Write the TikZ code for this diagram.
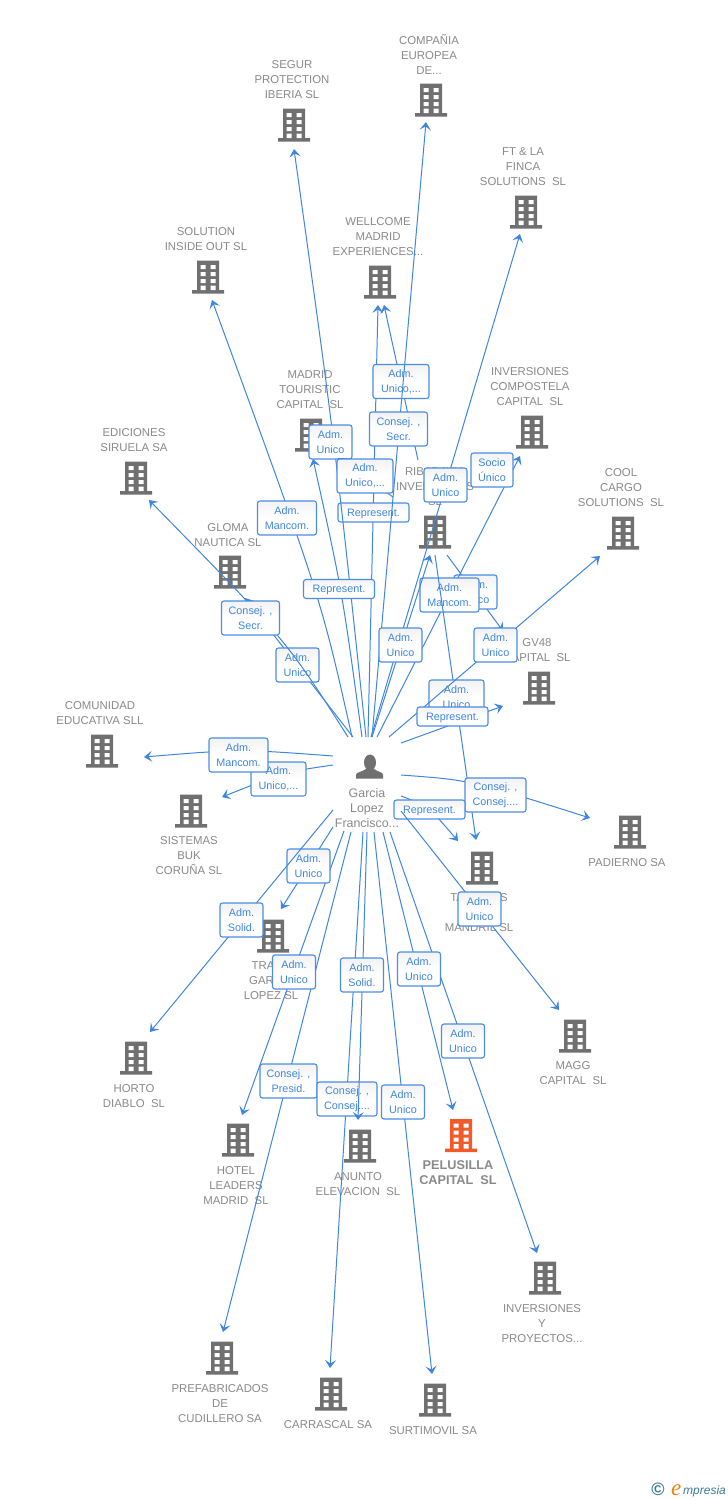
\documentclass[tikz,border=0pt]{standalone}
\usepackage{fontspec}
\setmainfont{Liberation Sans}
\newfontfamily\logofont{Liberation Serif}
\usetikzlibrary{arrows.meta}
\definecolor{edgeblue}{HTML}{3F86E3}
\definecolor{boxblue}{HTML}{4A8DE6}
\definecolor{txtblue}{HTML}{3F86E0}
\definecolor{labgray}{HTML}{8A8A8A}
\definecolor{bldgray}{HTML}{707070}
\definecolor{bldorange}{HTML}{F4592B}
\definecolor{logoteal}{HTML}{3D7C99}
\definecolor{logoorange}{HTML}{F08014}
\tikzset{
  conn/.style={draw=edgeblue,line width=1pt,-{Stealth[length=8pt,width=11pt,inset=3.5pt]}},
  rel/.style={draw=boxblue,line width=1.1pt,rounded corners=2.5pt,top color=black!5,bottom color=white,middle color=white,
    inner sep=0pt,minimum height=34pt,align=center,text=txtblue,font=\fontsize{10.8}{15}\selectfont,
    execute at begin node={\rule{0pt}{10pt}}},
  relone/.style={rel,minimum height=19pt},
  complab/.style={inner sep=0pt,align=center,text=labgray,font=\fontsize{11.4}{15}\selectfont},
  bldbox/.style={inner sep=0pt,minimum width=32pt,minimum height=33pt},
}
% building icon: name, x, y, colour
\newcommand{\bld}[4]{%
  \node[bldbox] (#1) at (#2,#3) {};
  \begin{scope}[shift={(#2,#3)}]
    \fill[#4] (-11,-16.5) rectangle (11,13) (-16,13) rectangle (16,16.5);
    \fill[white] (-7.5,-12) rectangle (-2.5,-8) (2.5,-12) rectangle (7.5,-8)
      (-7.5,-5) rectangle (-2.5,-1) (2.5,-5) rectangle (7.5,-1)
      (-7.5,2) rectangle (-2.5,6) (2.5,2) rectangle (7.5,6)
      (-7.5,8.5) rectangle (-2.5,13) (2.5,8.5) rectangle (7.5,13);
  \end{scope}}
% company: name, bx, by, lx, ly(top of text), text
\newcommand{\comp}[6]{%
  \bld{#1}{#2}{#3}{bldgray}
  \node[complab,anchor=north] (#1-l) at (#4,{#5+1}) {#6};}
% straight edge: id, sx, sy, tx, ty
\newcommand{\sedge}[5]{%
  \coordinate (s-#1) at (#2,#3);
  \coordinate (t-#1) at (#4,#5);
  \draw[conn] (s-#1) -- (t-#1);}
% curved edge: id, sx, sy, cx, cy, tx, ty
\newcommand{\cedge}[7]{%
  \coordinate (s-#1) at (#2,#3);
  \coordinate (c-#1) at (#4,#5);
  \coordinate (t-#1) at (#6,#7);
  \draw[conn] (s-#1) .. controls (c-#1) .. (t-#1);}
% two line box: id, x, y, w, text
\newcommand{\rbox}[5]{\node[rel,minimum width=#4pt] (b-#1) at (#2,#3) {#5};}
\newcommand{\rone}[3]{\node[relone,minimum width=71pt] (b-#1) at (#2,#3) {Represent.};}
\begin{document}
\begin{tikzpicture}[x=1pt,y=-1pt]
\useasboundingbox (0,0) rectangle (728,1500);
\fill[white] (0,0) rectangle (728,1500);
% companies
\comp{compania}{431}{100}{429}{33}{COMPAÑIA\\EUROPEA\\DE...}
\comp{segur}{294}{125}{292}{59}{SEGUR\\PROTECTION\\IBERIA SL}
\comp{ft}{526}{212}{523}{146}{FT \& LA\\FINCA\\SOLUTIONS\ \ SL}
\comp{solution}{208}{277}{206}{226}{SOLUTION\\INSIDE OUT SL}
\comp{wellcome}{380}{282}{378}{216}{WELLCOME\\MADRID\\EXPERIENCES...}
\comp{madrid}{311}{435}{310}{369}{MADRID\\TOURISTIC\\CAPITAL\ \ SL}
\comp{compostela}{532}{432}{530}{366}{INVERSIONES\\COMPOSTELA\\CAPITAL\ \ SL}
\comp{riba}{435}{532}{435}{466}{RIBADAVIA\\INVERSIONES\\SL}
\comp{cool}{623}{533}{621}{467}{COOL\\CARGO\\SOLUTIONS\ \ SL}
\comp{ediciones}{136}{478}{134}{427}{EDICIONES\\SIRUELA SA}
\comp{gloma}{230}{572}{228}{522}{GLOMA\\NAUTICA SL}
\comp{gv}{539}{688}{537}{637}{GV48\\CAPITAL\ \ SL}
\comp{comunidad}{102}{751}{100}{700}{COMUNIDAD\\EDUCATIVA SLL}
\comp{sistemas}{191}{811}{189}{835}{SISTEMAS\\BUK\\CORUÑA SL}
\comp{padierno}{630}{832}{627}{857}{PADIERNO SA}
\comp{trans}{482}{868}{479}{892}{TALLERES\\\\MANDRIL SL}
\comp{tra}{273}{936}{271}{960}{TRANS\\GARCIA\\LOPEZ SL}
\comp{magg}{575}{1036}{573}{1060}{MAGG\\CAPITAL\ \ SL}
\comp{horto}{136}{1058}{134}{1083}{HORTO\\DIABLO\ \ SL}
\comp{hotel}{238}{1140}{236}{1165}{HOTEL\\LEADERS\\MADRID\ \ SL}
\comp{anunto}{360}{1146}{358}{1171}{ANUNTO\\ELEVACION\ \ SL}
\bld{pelusilla}{461}{1135.5}{bldorange}
\node[complab,anchor=north,font=\fontsize{12.7}{15}\bfseries\selectfont] (pelusilla-l) at (458,1160) {PELUSILLA\\CAPITAL\ \ SL};
\comp{inversiones}{545}{1278}{542}{1303}{INVERSIONES\\Y\\PROYECTOS...}
\comp{prefab}{222}{1358}{220}{1383}{PREFABRICADOS\\DE\\CUDILLERO SA}
\comp{carrascal}{331}{1394}{328}{1419}{CARRASCAL SA}
\comp{surtimovil}{435}{1400}{433}{1425}{SURTIMOVIL SA}
% person
\node[inner sep=0pt,align=center,text=labgray,font=\fontsize{12.4}{15}\selectfont,anchor=north] (person) at (367,788) {Garcia\\Lopez\\Francisco...};
\fill[bldgray] (370,762.5) ellipse (6 and 8);
\fill[bldgray] (356,778.5) -- (356,775) .. controls (356,772) and (362,772) .. (366,769) -- (374,769) .. controls (378,772) and (383,772) .. (383,775) -- (383,778.5) -- cycle;
% edges and their labels, in stacking order
\sedge{e1}{368}{737}{378}{305}
\rone{e1}{373.5}{512.5}
\sedge{e2}{418}{460}{384}{305}
\rbox{e2}{401}{381.5}{56}{Adm.\\Unico,...}
\sedge{e3}{372}{737}{426}{122}
\rbox{e3}{398.5}{429}{58}{Consej. ,\\Secr.}
\sedge{e4}{371}{737}{520}{234}
\rbox{e4}{445.5}{485}{43}{Adm.\\Unico}
\sedge{e5}{447}{555}{503}{631}
\rbox{e5}{475.5}{592}{43}{Adm.\\Unico}
\sedge{e6}{377}{737}{520}{456}
\rbox{e6}{449.5}{595}{59}{Adm.\\Mancom.}
\rbox{e6b}{492}{470}{42}{Socio\\Único}
\sedge{e7}{435}{555}{476}{840}
\rbox{e7}{456.5}{697}{55}{Adm.\\Unico}
\sedge{e8}{372}{737}{430}{555}
\rbox{e8}{400.5}{645}{43}{Adm.\\Unico}
\sedge{e9}{389}{737}{600}{556}
\rbox{e9}{495.5}{645}{43}{Adm.\\Unico}
\sedge{e10}{401}{743}{503}{706}
\rone{e10}{452.5}{716.5}
\cedge{e11}{401}{775}{470}{780}{590}{818}
\rbox{e11}{495.5}{795}{61}{Consej. ,\\Consej....}
\cedge{e12}{401}{796}{428}{806}{458}{841}
\rone{e12}{429.5}{809.5}
\sedge{e13}{401}{811}{559}{1010}
\rbox{e13}{479.5}{909}{43}{Adm.\\Unico}
\sedge{e14}{390}{832}{537}{1253}
\rbox{e14}{463}{1041}{43}{Adm.\\Unico}
\sedge{e15}{383}{832}{453}{1110}
\rbox{e15}{419}{969}{43}{Adm.\\Unico}
\sedge{e16}{374}{832}{432}{1374}
\rbox{e16}{403}{1102}{43}{Adm.\\Unico}
\sedge{e17}{351}{832}{223}{1332}
\rbox{e17}{288.5}{1081}{57}{Consej. ,\\Presid.}
\sedge{e18}{363}{832}{330}{1368}
\rbox{e18}{347}{1099}{60}{Consej. ,\\Consej....}
\sedge{e19}{367}{832}{358}{1120}
\rbox{e19}{362}{975}{43}{Adm.\\Solid.}
\sedge{e20}{344}{831}{242}{1115}
\rbox{e20}{294}{972}{43}{Adm.\\Unico}
\sedge{e21}{333}{827}{281}{909}
\rbox{e21}{308.5}{866}{43}{Adm.\\Unico}
\sedge{e22}{333}{810}{150}{1032}
\rbox{e22}{241.5}{920}{43}{Adm.\\Solid.}
\cedge{e23}{333}{765}{285}{772}{222}{797}
\rbox{e23}{278.5}{779}{55}{Adm.\\Unico,...}
\cedge{e24}{333}{756}{240}{749}{144}{757}
\rbox{e24}{238.5}{755}{59}{Adm.\\Mancom.}
\sedge{e25}{353}{737}{245}{598}
\rbox{e25}{297.5}{665}{43}{Adm.\\Unico}
\cedge{e26}{348}{737}{287}{641}{149}{500}
\rbox{e26}{250.5}{618}{58}{Consej. ,\\Secr.}
\cedge{e27}{352}{737}{321}{598}{212}{300}
\rbox{e27}{287}{518}{59}{Adm.\\Mancom.}
\cedge{e28}{366}{737}{335}{443}{294}{149}
\rbox{e28}{330.5}{442}{43}{Adm.\\Unico}
\cedge{e29}{362}{737}{342}{590}{313}{459}
\rone{e29}{339}{589}
\sedge{e30}{393}{497}{338}{458}
\rbox{e30}{365}{476}{56}{Adm.\\Unico,...}
% footer
\node[inner sep=0pt,text=logoteal,font=\bfseries\fontsize{18}{18}\selectfont] (copy) at (658,1489) {©};
\node[inner sep=0pt,text=logoorange,font=\logofont\itshape\fontsize{23}{23}\selectfont,anchor=base west] (elogo) at (671,1495) {e};
\node[inner sep=0pt,text=logoteal,font=\itshape\fontsize{12}{12}\selectfont,anchor=base west] (mpresia) at (683,1494) {mpresia};
\end{tikzpicture}
\end{document}
